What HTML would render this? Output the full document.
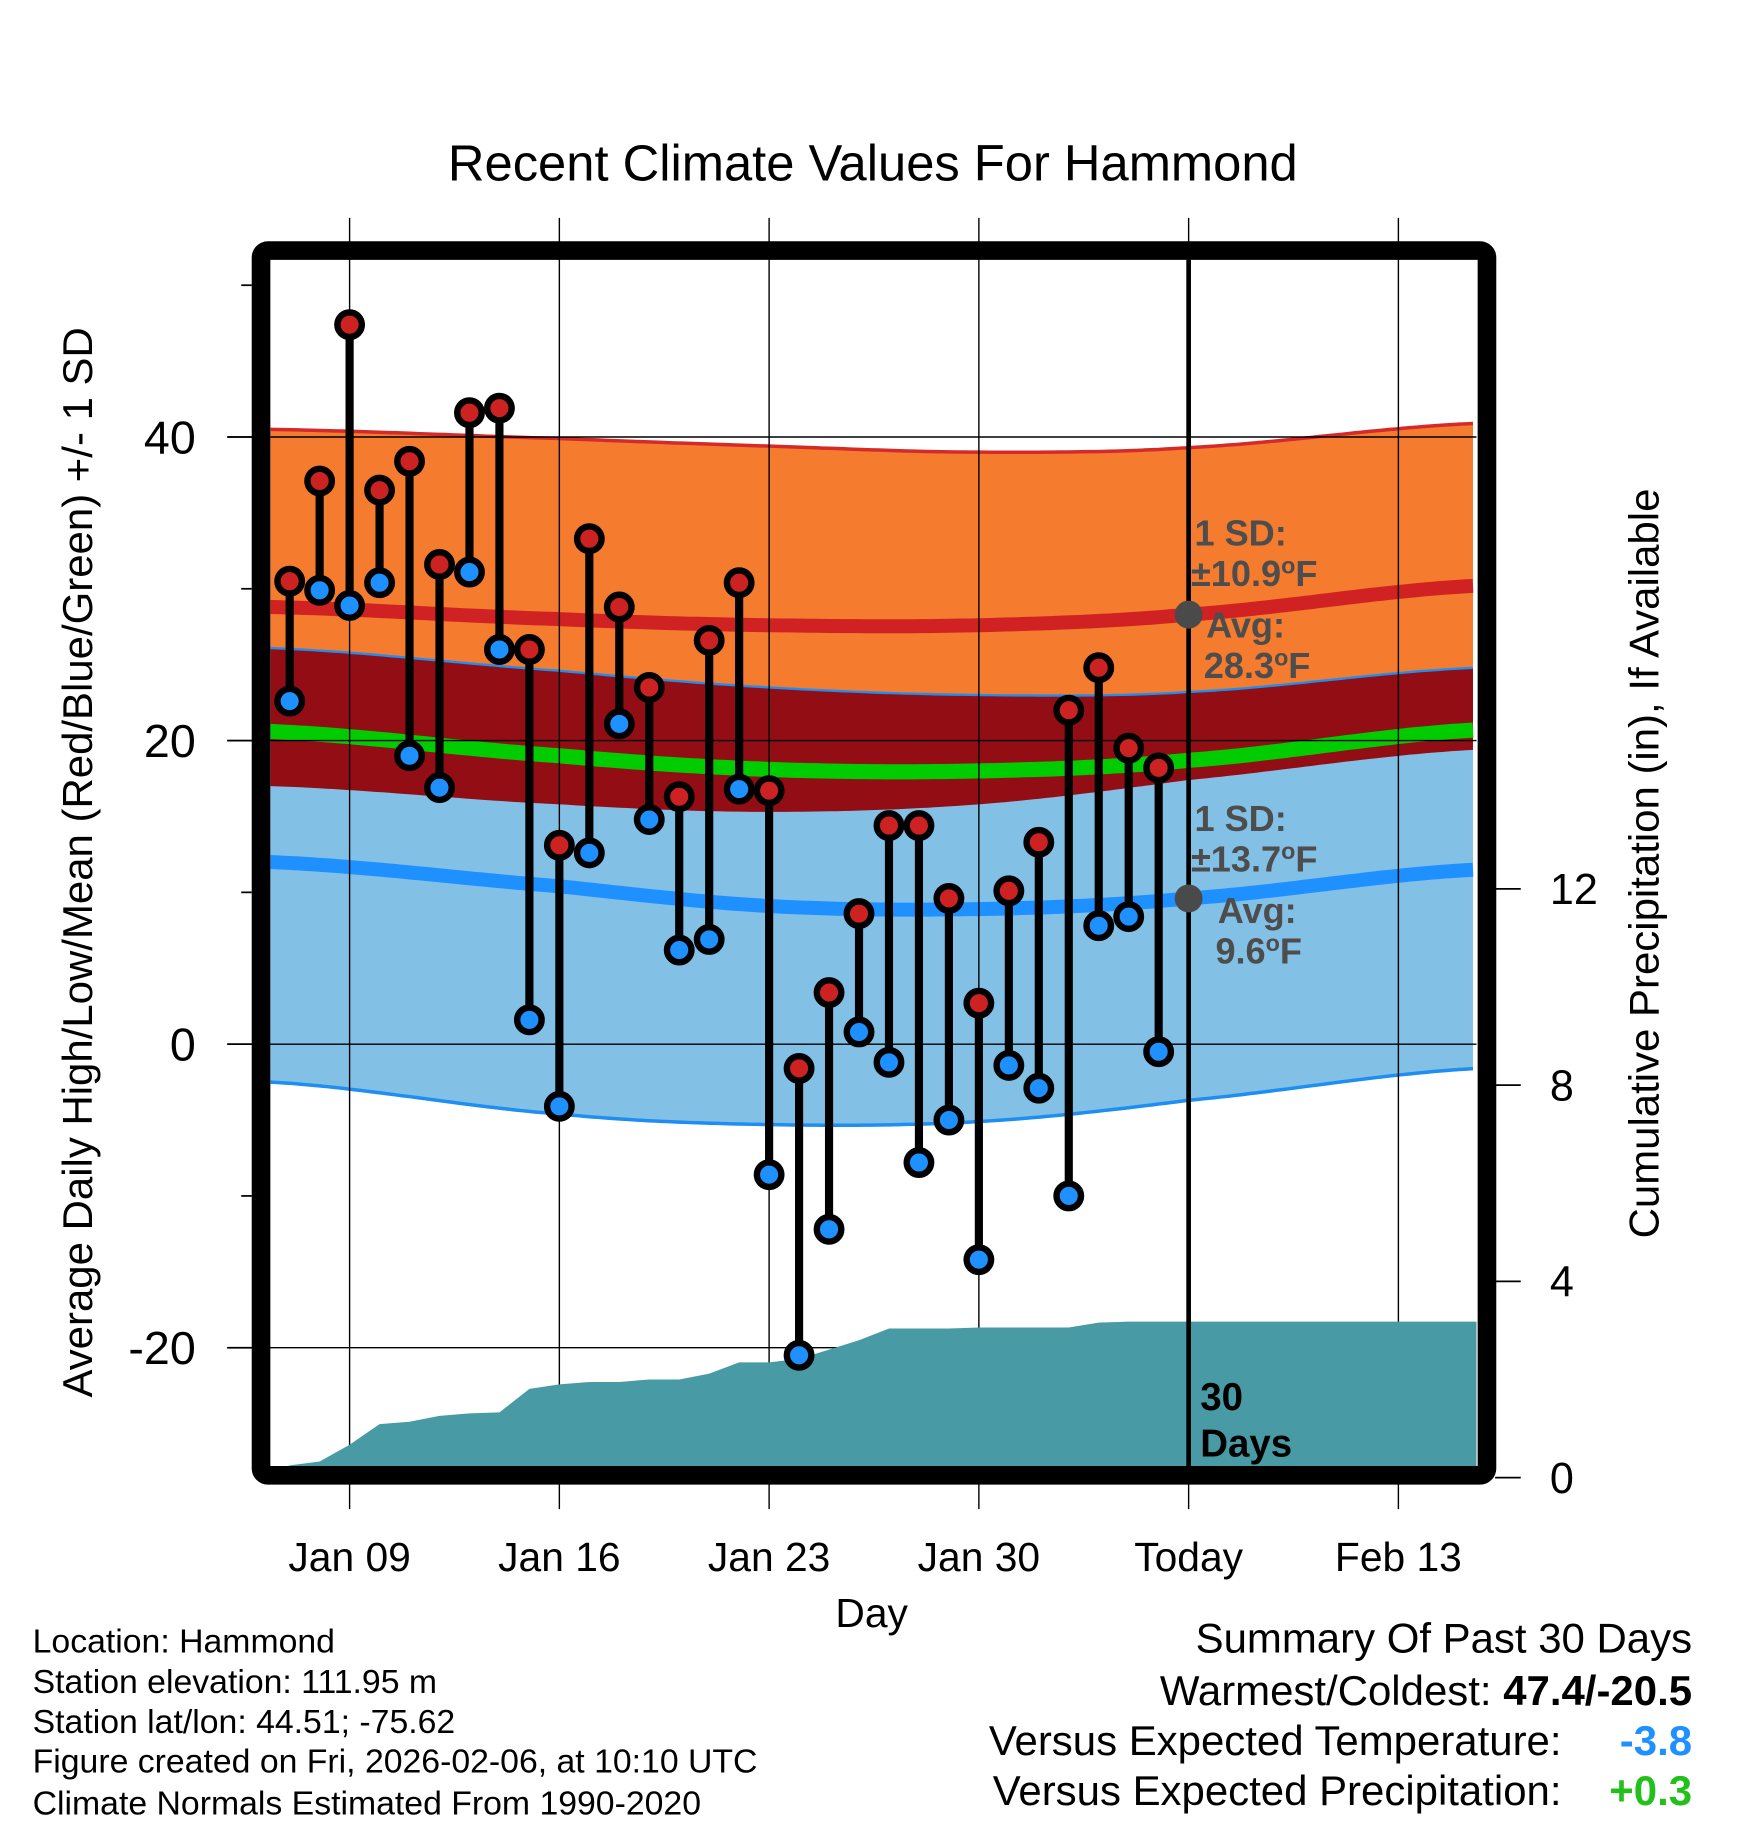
<!DOCTYPE html>
<html><head><meta charset="utf-8">
<style>
html,body{margin:0;padding:0;background:#fff;}
svg{display:block;font-family:"Liberation Sans",Arial,sans-serif;}
</style></head>
<body>
<svg id="chart" width="1748" height="1828" viewBox="0 0 1500 1568.65" xmlns="http://www.w3.org/2000/svg">
<defs><clipPath id="plotclip"><rect x="232" y="223" width="1035" height="1035"/></clipPath></defs>
<g id="bands" clip-path="url(#plotclip)"></g>
<g id="grid"></g>
<g id="precip" clip-path="url(#plotclip)"></g>
<g id="marks"></g>
<rect x="224" y="215" width="1052" height="1051" rx="6" fill="none" stroke="#000" stroke-width="16"/>
<g id="axes"></g>
<text x="749" y="155" font-size="43.5" text-anchor="middle">Recent Climate Values For Hammond</text>
<text transform="translate(79,740) rotate(-90)" font-size="36" text-anchor="middle">Average Daily High/Low/Mean (Red/Blue/Green) +/- 1 SD</text>
<text transform="translate(1423,741) rotate(-90)" font-size="36" text-anchor="middle">Cumulative Precipitation (in), If Available</text>
<text x="748" y="1396" font-size="35" text-anchor="middle">Day</text>
<g font-size="29">
<text x="28" y="1418">Location: Hammond</text>
<text x="28" y="1453">Station elevation: 111.95 m</text>
<text x="28" y="1487">Station lat/lon: 44.51; -75.62</text>
<text x="28" y="1521">Figure created on Fri, 2026-02-06, at 10:10 UTC</text>
<text x="28" y="1557">Climate Normals Estimated From 1990-2020</text>
</g>
<g font-size="36">
<text x="1452" y="1418" text-anchor="end">Summary Of Past 30 Days</text>
<text x="1452" y="1463" text-anchor="end">Warmest/Coldest: <tspan font-weight="bold">47.4/-20.5</tspan></text>
<text x="1340" y="1506" text-anchor="end">Versus Expected Temperature:</text>
<text x="1452" y="1506" text-anchor="end" font-weight="bold" fill="#1e90ff">-3.8</text>
<text x="1340" y="1549" text-anchor="end">Versus Expected Precipitation:</text>
<text x="1452" y="1549" text-anchor="end" font-weight="bold" fill="#22c01a">+0.3</text>
</g>
</svg>
<script>
// ---- data ----
const days = [7,8,9,10,11,12,13,14,15,16,17,18,19,20,21,22,23,24,25,26,27,28,29,30,31,32,33,34,35,36];
const highs = [30.5,37.1,47.4,36.5,38.4,31.6,41.6,41.9,26.0,13.1,33.3,28.8,23.5,16.3,26.6,30.4,16.7,-1.6,3.4,8.6,14.4,14.4,9.6,2.7,10.1,13.3,22.0,24.8,19.5,18.2];
const lows = [22.6,29.9,28.9,30.4,19.0,16.9,31.1,26.0,1.6,-4.1,12.6,21.1,14.8,6.2,6.9,16.8,-8.6,-20.5,-12.2,0.8,-1.2,-7.8,-5.0,-14.2,-1.4,-2.9,-10.0,7.8,8.4,-0.5];
const precip = [0.25,0.33,0.67,1.09,1.14,1.26,1.31,1.33,1.81,1.90,1.95,1.95,2.00,2.00,2.12,2.35,2.35,2.42,2.61,2.80,3.04,3.04,3.04,3.06,3.06,3.06,3.06,3.16,3.18,3.18];
const normDays = [6.35,16,23,30,37,46.6];
const highUpper = [40.5,39.9,39.4,39.0,39.3,40.9];
const highMean = [28.8,28.0,27.6,27.6,28.3,30.2];
const lowUpper = [26.1,24.6,23.5,23.0,23.2,24.8];
const avgMean = [20.6,19.0,18.1,18.0,18.7,20.7];
const highLower = [17.0,15.8,15.3,15.8,17.4,19.4];
const lowMean = [12.0,10.4,9.1,8.9,9.6,11.5];
const lowLower = [-2.5,-4.6,-5.3,-5.1,-3.7,-1.6];
const yTicks = [-20,0,20,40];
const yMinor = [-10,10,30,50];
const y2Ticks = [0,4,8,12];
const xTickDays = [9,16,23,30,37,44];
const xTickLabels = ["Jan 09","Jan 16","Jan 23","Jan 30","Today","Feb 13"];
const todayDay = 37;
const todayHighAvg = 28.3, todayLowAvg = 9.6;

// ---- scales ----
const X = d => 300 + (d - 9) * 25.714;
const Y = v => 896 - v * 13.025;
const YP = p => 1268 - p * 42.1;
const NS = "http://www.w3.org/2000/svg";
function mk(tag, attrs, parent){const e=document.createElementNS(NS,tag);for(const k in attrs)e.setAttribute(k,attrs[k]);parent.appendChild(e);return e;}

function curvePts(vals){
  const pts=[];
  for(let px=232;px<=1268;px+=6){
    const d = 9 + (px-300)/25.714;
    let i=0; while(i<normDays.length-2 && d>normDays[i+1]) i++;
    const p0=vals[Math.max(i-1,0)],p1=vals[i],p2=vals[i+1],p3=vals[Math.min(i+2,vals.length-1)];
    let t=(d-normDays[i])/(normDays[i+1]-normDays[i]); t=Math.max(0,Math.min(1,t));
    const t2=t*t,t3=t2*t;
    const v=0.5*((2*p1)+(-p0+p2)*t+(2*p0-5*p1+4*p2-p3)*t2+(-p0+3*p1-3*p2+p3)*t3);
    pts.push([px,Y(v)]);
  }
  return pts;
}
function bandPath(a,b){const pa=curvePts(a),pb=curvePts(b).reverse();return "M"+pa.concat(pb).map(p=>p[0].toFixed(1)+","+p[1].toFixed(1)).join("L")+"Z";}
function linePath(a){return "M"+curvePts(a).map(p=>p[0].toFixed(1)+","+p[1].toFixed(1)).join("L");}

const bands=document.getElementById('bands');
let e;
e=mk('path',{d:bandPath(highUpper,highLower),fill:'#f57b2e'},bands);


e=mk('path',{d:bandPath(lowUpper,lowLower),fill:'#82c0e6'},bands);


e=mk('path',{d:bandPath(lowUpper,highLower),fill:'#930d14'},bands);


e=mk('path',{d:linePath(highUpper),fill:'none',stroke:'#d42a2a',"stroke-width":3},bands);


e=mk('path',{d:linePath(lowUpper),fill:'none',stroke:'#1e8ef0',"stroke-width":2},bands);


e=mk('path',{d:linePath(lowLower),fill:'none',stroke:'#1e8ef0',"stroke-width":3},bands);


e=mk('path',{d:linePath(highMean),fill:'none',stroke:'#d02222',"stroke-width":12},bands);


e=mk('path',{d:linePath(avgMean),fill:'none',stroke:'#00cc00',"stroke-width":13},bands);


e=mk('path',{d:linePath(lowMean),fill:'none',stroke:'#1e90ff',"stroke-width":12},bands);



// grid
const grid=document.getElementById('grid');
xTickDays.forEach(d=>{
  e=mk('line',{x1:X(d),x2:X(d),y1:187,y2:1295,stroke:'#000',"stroke-width":1.2},grid);
  
  
});
yTicks.forEach(v=>{
  e=mk('line',{x1:195,x2:1267,y1:Y(v),y2:Y(v),stroke:'#000',"stroke-width":1.2},grid);
  
  
});

// precip
const pg=document.getElementById('precip');
let pd="M232,1262L"+X(days[0]-0.65).toFixed(1)+","+YP(0.1).toFixed(1);
days.forEach((d,i)=>{pd+="L"+X(d).toFixed(1)+","+YP(precip[i]).toFixed(1);});
pd+="L1268,"+YP(precip[precip.length-1]).toFixed(1)+"L1268,1262Z";
e=mk('path',{d:pd,fill:'#489ba4'},pg);



// today line & averages
const marks=document.getElementById('marks');
e=mk('line',{x1:X(todayDay),x2:X(todayDay),y1:223,y2:1258,stroke:'#000',"stroke-width":4},marks);


[todayHighAvg,todayLowAvg].forEach(v=>{
  e=mk('circle',{cx:X(todayDay),cy:Y(v),r:12,fill:'#4a4a4a'},marks);
  
  
});
const ann=[["1 SD:",1025,468,""],["\u00b110.9",1022,503,"F"],["Avg:",1035,547,""],["28.3",1033,582,"F"],["1 SD:",1025,713,""],["\u00b113.7",1022,748,"F"],["Avg:",1045,792,""],["9.6",1043,827,"F"]];
ann.forEach(a=>{
  e=mk('text',{x:a[1],y:a[2],"font-size":31,"font-weight":"bold",fill:'#4d4d4d'},marks);
  
  
  if(a[3]){
    e.appendChild(document.createTextNode(a[0]));
    const s=mk('tspan',{"font-size":20,dy:-11},e); s.textContent="o";
    const f=mk('tspan',{"font-size":31,dy:11},e); f.textContent="F";
  } else e.textContent=a[0];
});
[["30",1030,1210],["Days",1030,1250]].forEach(a=>{
  e=mk('text',{x:a[1],y:a[2],"font-size":33,"font-weight":"bold",fill:'#000'},marks);
  e.textContent=a[0];
  
  
});

// stems and dots
days.forEach((d,i)=>{
  e=mk('line',{x1:X(d),x2:X(d),y1:Y(highs[i]),y2:Y(lows[i]),stroke:'#000',"stroke-width":7},marks);
  
  
});
days.forEach((d,i)=>{
  e=mk('circle',{cx:X(d),cy:Y(lows[i]),r:10.5,fill:'#1e90ff',stroke:'#000',"stroke-width":5.5},marks);
  
  
  e=mk('circle',{cx:X(d),cy:Y(highs[i]),r:10.5,fill:'#cc2222',stroke:'#000',"stroke-width":5.5},marks);
  
  
});

// axes
const axes=document.getElementById('axes');
yTicks.forEach(v=>{
  e=mk('line',{x1:195,x2:216,y1:Y(v),y2:Y(v),stroke:'#000',"stroke-width":1.5},axes);
  
  
  e=mk('text',{x:168,y:Y(v)+14,"font-size":40,"text-anchor":"end"},axes);
  e.textContent=String(v);
  
  
});
yMinor.forEach(v=>{
  e=mk('line',{x1:207,x2:216,y1:Y(v),y2:Y(v),stroke:'#000',"stroke-width":1.5},axes);
  
  
});
y2Ticks.forEach(p=>{
  e=mk('line',{x1:1283,x2:1305,y1:YP(p),y2:YP(p),stroke:'#000',"stroke-width":1.5},axes);
  
  
  e=mk('text',{x:1330,y:YP(p)+13,"font-size":37},axes);
  e.textContent=String(p);
  
  
});
xTickDays.forEach((d,i)=>{
  e=mk('text',{x:X(d),y:1348,"font-size":35,"text-anchor":"middle"},axes);
  e.textContent=xTickLabels[i];
  
  
});
</script>
</body></html>
